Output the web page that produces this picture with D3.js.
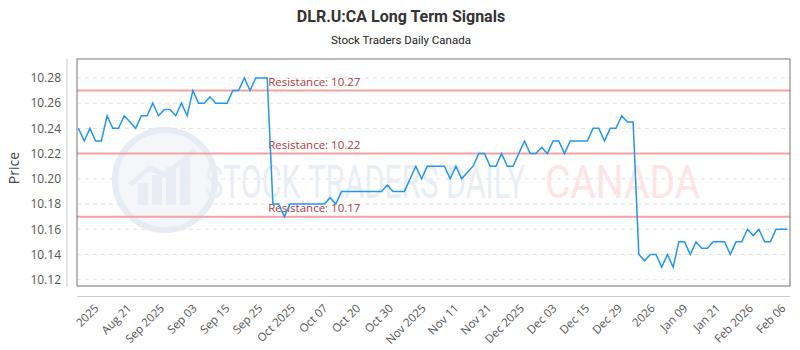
<!DOCTYPE html>
<html><head><meta charset="utf-8">
<script src="https://cdn.jsdelivr.net/npm/d3@7"></script>
<style>body{margin:0;background:#fff}svg{display:block}</style>
</head><body><svg id="c" width="800" height="350"></svg>
<script>
const title = "DLR.U:CA Long Term Signals";
const subtitle = "Stock Traders Daily Canada";
const xTickLabels = ["2025","Aug 21","Sep 2025","Sep 03","Sep 15","Sep 25","Oct 2025","Oct 07","Oct 20","Oct 30","Nov 2025","Nov 11","Nov 21","Dec 2025","Dec 03","Dec 15","Dec 29","2026","Jan 09","Jan 21","Feb 2026","Feb 06"];
const yTicks = [10.12,10.14,10.16,10.18,10.20,10.22,10.24,10.26,10.28];
const prices = [
10.24,10.23,10.24,10.23,10.23,10.25,10.24,10.24,10.25,10.245,
10.24,10.25,10.25,10.26,10.25,10.255,10.255,10.25,10.26,10.25,
10.27,10.26,10.26,10.265,10.26,10.26,10.26,10.27,10.27,10.28,
10.27,10.28,10.28,10.28,10.18,10.18,10.17,10.18,10.18,10.18,
10.18,10.18,10.18,10.18,10.185,10.18,10.19,10.19,10.19,10.19,
10.19,10.19,10.19,10.19,10.195,10.19,10.19,10.19,10.20,10.21,
10.20,10.21,10.21,10.21,10.21,10.20,10.21,10.20,10.205,10.21,
10.22,10.22,10.21,10.21,10.22,10.21,10.21,10.22,10.23,10.22,
10.22,10.225,10.22,10.23,10.23,10.22,10.23,10.23,10.23,10.23,
10.24,10.24,10.23,10.24,10.24,10.25,10.245,10.245,10.14,10.135,
10.14,10.14,10.13,10.14,10.13,10.15,10.15,10.14,10.15,10.145,
10.145,10.15,10.15,10.15,10.14,10.15,10.15,10.16,10.155,10.16,
10.15,10.15,10.16,10.16,10.16];
const resistance = [10.27,10.22,10.17];
const resistanceLabelIndex = 33;

const svg = d3.select("#c");
const L=77,R=790,T=59,B=286;
const x = d3.scaleLinear().domain([0,prices.length-1]).range([78.5,787.5]);
const y = d3.scaleLinear().domain([10.115,10.295]).range([B,T]);
const xl = d3.scalePoint().domain(xTickLabels).range([99,786]);
const font = "'Open Sans', sans-serif";

// titles
svg.append("text").attr("x",401).attr("y",22).attr("text-anchor","middle")
  .attr("font-family","Roboto, sans-serif").attr("font-weight",700).attr("font-size",16)
  .attr("fill","#333").text(title);
svg.append("text").attr("x",401).attr("y",44).attr("text-anchor","middle")
  .attr("font-family","Roboto, sans-serif").attr("font-size",11.5)
  .attr("fill","#222").text(subtitle);

// gridlines
svg.append("g").selectAll("line").data(yTicks).join("line")
  .attr("x1",L).attr("x2",R).attr("y1",d=>y(d)).attr("y2",d=>y(d))
  .attr("stroke","#e3e3e3").attr("stroke-dasharray","4,4").attr("stroke-width",1);

// watermark
const wm = svg.append("g").attr("opacity",0.9);
wm.append("circle").attr("cx",165).attr("cy",180).attr("r",50)
  .attr("fill","#f3f6fa").attr("stroke","#e4eaf2").attr("stroke-width",6);
const barsH=[22,30,38,46];
wm.selectAll("rect").data(barsH).join("rect")
  .attr("x",(d,i)=>138+i*14).attr("y",d=>205-d).attr("width",10).attr("height",d=>d)
  .attr("fill","#e6ecf4");
wm.append("path").attr("d","M130,185 L150,168 L165,175 L195,150")
  .attr("fill","none").attr("stroke","#e6ecf4").attr("stroke-width",5);
wm.append("text").attr("x",205).attr("y",198).attr("font-family","Roboto, sans-serif")
  .attr("font-size",46).attr("textLength",320).attr("lengthAdjust","spacingAndGlyphs")
  .attr("fill","#e7edf4").text("STOCK TRADERS DAILY");
wm.append("text").attr("x",545).attr("y",198).attr("font-family","Roboto, sans-serif")
  .attr("font-size",46).attr("textLength",155).attr("lengthAdjust","spacingAndGlyphs")
  .attr("fill","#fde3e3").text("CANADA");

// resistance lines
svg.append("g").selectAll("line").data(resistance).join("line")
  .attr("x1",L).attr("x2",R).attr("y1",d=>y(d)).attr("y2",d=>y(d))
  .attr("stroke","#f4a3a3").attr("stroke-width",2);
svg.append("g").selectAll("text").data(resistance).join("text")
  .attr("x",x(resistanceLabelIndex)+1).attr("y",d=>y(d)-5)
  .attr("font-family",font).attr("font-size",11.5).attr("fill","#b03a3a")
  .text(d=>"Resistance: "+d.toFixed(2));

// line
svg.append("path").datum(prices)
  .attr("d",d3.line().x((d,i)=>x(i)).y(d=>y(d)))
  .attr("fill","none").attr("stroke","#2196f3").attr("stroke-width",1.5)
  .attr("stroke-linejoin","miter");

// plot border
svg.append("rect").attr("x",L).attr("y",T).attr("width",R-L).attr("height",B-T)
  .attr("fill","none").attr("stroke","#777").attr("stroke-width",1);

// y axis
const ya = svg.append("g").attr("transform","translate(67,0)")
  .call(d3.axisLeft(y).tickValues(yTicks).tickFormat(d3.format(".2f")).tickSize(0).tickPadding(6));
ya.select(".domain").attr("stroke","#ccc").attr("d",`M0,${T}V${B+1}`);
ya.selectAll("text").attr("font-family",font).attr("font-size",12).attr("fill","#555");
svg.append("text").attr("transform",`translate(19,168) rotate(-90)`).attr("text-anchor","middle")
  .attr("font-family",font).attr("font-size",14).attr("fill","#444").text("Price");

// x axis
svg.append("line").attr("x1",L).attr("x2",R).attr("y1",296.5).attr("y2",296.5).attr("stroke","#ccc");
const xa = svg.append("g").attr("transform","translate(0,296)")
  .call(d3.axisBottom(xl).tickSize(0).tickPadding(0));
xa.select(".domain").remove();
xa.selectAll("text").attr("font-family",font).attr("font-size",11.5).attr("fill","#555")
  .attr("text-anchor","end").attr("dy",null).attr("y",0)
  .attr("transform","translate(0,13) rotate(-45)");
</script></body></html>
